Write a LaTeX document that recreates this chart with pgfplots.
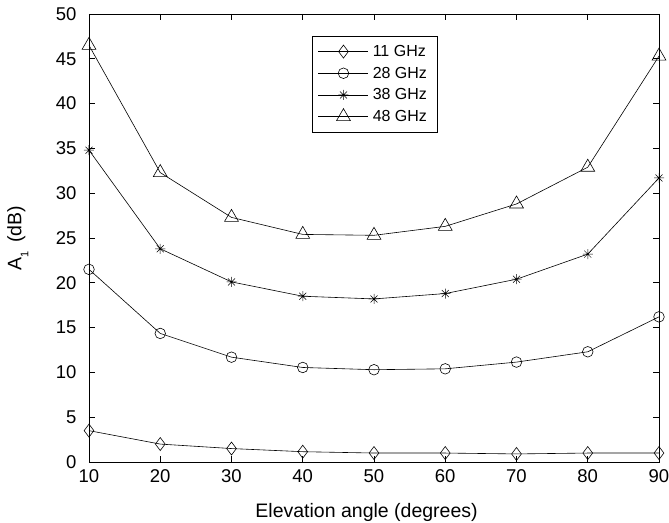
\documentclass[border=0pt]{standalone}
\usepackage{pgfplots}
\pgfplotsset{compat=1.18}
\usepackage{fontspec}
\setmainfont{Liberation Sans}
\pgfdeclareplotmark{mstar}{%
  \pgfpathmoveto{\pgfqpoint{-\pgfplotmarksize}{0pt}}\pgfpathlineto{\pgfqpoint{\pgfplotmarksize}{0pt}}%
  \pgfpathmoveto{\pgfqpoint{0pt}{-\pgfplotmarksize}}\pgfpathlineto{\pgfqpoint{0pt}{\pgfplotmarksize}}%
  \pgfpathmoveto{\pgfqpoint{-0.7\pgfplotmarksize}{-0.7\pgfplotmarksize}}\pgfpathlineto{\pgfqpoint{0.7\pgfplotmarksize}{0.7\pgfplotmarksize}}%
  \pgfpathmoveto{\pgfqpoint{-0.7\pgfplotmarksize}{0.7\pgfplotmarksize}}\pgfpathlineto{\pgfqpoint{0.7\pgfplotmarksize}{-0.7\pgfplotmarksize}}%
  \pgfusepathqstroke}
\begin{document}
\begin{tikzpicture}
\begin{axis}[
  name=ax,
  scale only axis,
  width=570pt, height=448pt,
  xmin=10, xmax=90, ymin=0, ymax=50,
  xtick={10,20,...,90},
  ytick={0,5,...,50},
  tick align=inside,
  tick pos=both,
  major tick length=6pt,
  axis line style={line width=0.8pt},
  every tick/.style={black, line width=0.6pt},
  /pgf/number format/assume math mode=true,
  ticklabel style={font=\fontsize{18.5}{20}\selectfont},
  yticklabel style={xshift=-9pt},
  xticklabel style={yshift=-4pt},
  xlabel={Elevation angle (degrees)},
  ylabel={A\raisebox{-7pt}{\fontsize{11}{11}\selectfont 1}\ \,(dB)},
  every axis x label/.style={at={(axis description cs:0.487,-0.112)}, anchor=center, font=\fontsize{19.5}{21}\selectfont},
  every axis y label/.style={at={(axis description cs:-0.125,0.5)}, rotate=90, anchor=center, font=\fontsize{19.5}{21}\selectfont},
  legend style={at={(0.391,0.951)}, anchor=north west, draw=black, line width=0.6pt,
    font=\fontsize{16}{18}\selectfont, row sep=1pt, inner xsep=6pt, inner ysep=5pt,
    nodes={inner sep=4pt}},
  legend cell align=left,
  legend image code/.code={\draw[mark repeat=2,mark phase=2,#1] plot coordinates {(0pt,0pt) (25pt,0pt) (50pt,0pt)};},
  every axis plot/.append style={black, line width=0.6pt},
]
\addplot[mark=diamond, mark size=6.5pt, mark options={solid, line width=0.6pt}] coordinates {
(10,3.5) (20,2.0) (30,1.5) (40,1.15) (50,1.0) (60,1.0) (70,0.9) (80,1.0) (90,1.0)};
\addplot[mark=o, mark size=5.3pt, mark options={solid}] coordinates {
(10,21.5) (20,14.35) (30,11.7) (40,10.55) (50,10.3) (60,10.4) (70,11.15) (80,12.3) (90,16.2)};
\addplot[mark=mstar, mark size=5pt, mark options={solid, line width=0.5pt}] coordinates {
(10,34.8) (20,23.8) (30,20.1) (40,18.5) (50,18.2) (60,18.8) (70,20.4) (80,23.2) (90,31.7)};
\addplot[mark=triangle, mark size=8pt, mark options={solid}] coordinates {
(10,46.5) (20,32.3) (30,27.3) (40,25.4) (50,25.3) (60,26.3) (70,28.8) (80,32.9) (90,45.3)};
\legend{11 GHz, 28 GHz, 38 GHz, 48 GHz}
\end{axis}
\pgfresetboundingbox
\useasboundingbox (ax.south west) ++(-89pt,-60pt) rectangle ++(669pt,522pt);
\end{tikzpicture}
\end{document}
